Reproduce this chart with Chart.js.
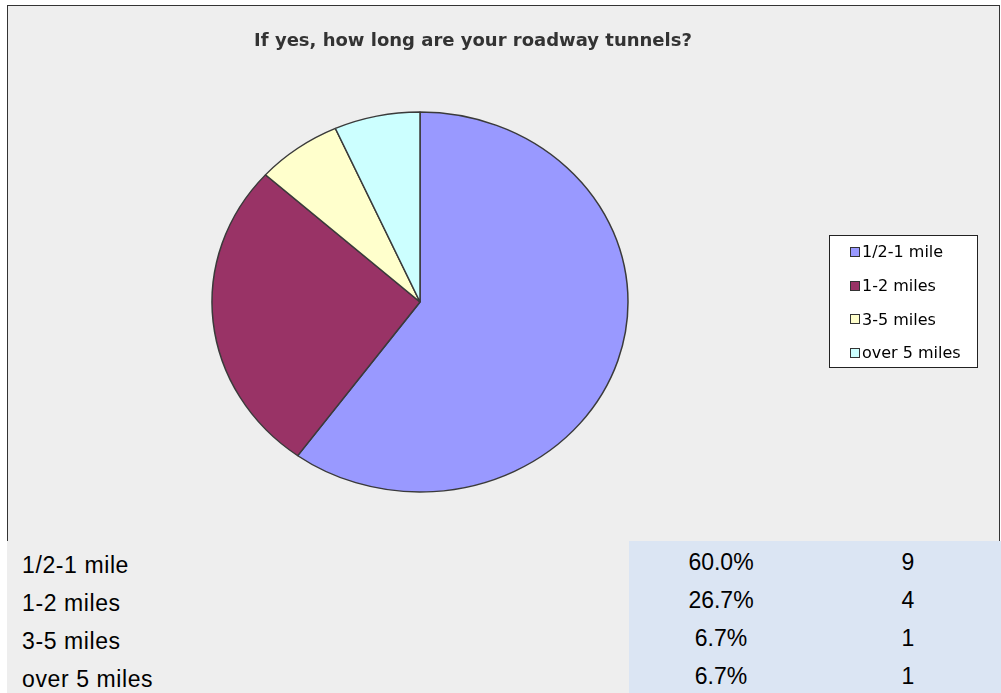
<!DOCTYPE html>
<html>
<head>
<meta charset="utf-8">
<title>Roadway tunnel length</title>
<script src="https://cdn.jsdelivr.net/npm/chart.js@4.4.0/dist/chart.umd.min.js"></script>
<style>
  html, body { margin: 0; padding: 0; background: #fff; }
  body { width: 1001px; height: 693px; position: relative; overflow: hidden; }
  #chart-box {
    position: absolute; left: 7px; top: 5px; width: 993px; height: 536px;
    background: #eeeeee; border: 1px solid #333; border-bottom: none; box-sizing: border-box;
  }
  #pie { position: absolute; left: 7px; top: 5px; }
  #summary {
    position: absolute; left: 7px; top: 541px; width: 994px; height: 152px;
    background: #eeeeee; font-family: "Liberation Sans", Arial, sans-serif; font-size: 23px; color: #000;
  }
  #summary .shade { position: absolute; left: 622px; top: 0; width: 372px; height: 152px; background: #dbe5f3; }
  #summary .row { position: absolute; left: 0; width: 994px; height: 38px; line-height: 38px; }
  #summary .label { position: absolute; left: 15px; letter-spacing: 0.6px; }
  #summary .pct { position: absolute; left: 664px; width: 100px; text-align: center; top: -3px; }
  #summary .count { position: absolute; left: 851px; width: 100px; text-align: center; top: -3px; }
</style>
</head>
<body>
<div id="chart-box"></div>
<canvas id="pie" width="993" height="536"></canvas>
<div id="summary"><div class="shade"></div></div>

<script>
const chartTitle = "If yes, how long are your roadway tunnels?";
const lengthLabels = ["1/2-1 mile", "1-2 miles", "3-5 miles", "over 5 miles"];
const responseCounts = [9, 4, 1, 1];
const sliceColors = ["#9999ff", "#993366", "#ffffcc", "#ccffff"];

const total = responseCounts.reduce((a, b) => a + b, 0);
const percentLabels = responseCounts.map((c) => (c / total * 100).toFixed(1) + "%");

// pie is drawn slightly squashed vertically (ry / rx)
const PIE_SQUASH = 190 / 208;

const ellipsePlugin = {
  id: "ellipse",
  beforeDatasetsDraw(chart) {
    const arc = chart.getDatasetMeta(0).data[0];
    if (!arc) return;
    const ctx = chart.ctx;
    ctx.save();
    ctx.translate(arc.x, arc.y);
    ctx.scale(1, PIE_SQUASH);
    ctx.translate(-arc.x, -arc.y);
  },
  afterDatasetsDraw(chart) {
    chart.ctx.restore();
  }
};

// title and boxed legend, drawn by hand
const decorPlugin = {
  id: "decor",
  afterDraw(chart) {
    const ctx = chart.ctx;
    ctx.save();

    ctx.fillStyle = "#333";
    ctx.font = "bold 18px 'DejaVu Sans', Verdana, sans-serif";
    ctx.textAlign = "center";
    ctx.textBaseline = "middle";
    ctx.fillText(chartTitle, 466, 36);

    // legend frame
    ctx.fillStyle = "#fff";
    ctx.fillRect(822, 230, 148, 132);
    ctx.strokeStyle = "#222";
    ctx.lineWidth = 1;
    ctx.strokeRect(822.5, 230.5, 148, 132);

    ctx.font = "16px 'DejaVu Sans', Verdana, sans-serif";
    ctx.textAlign = "left";
    lengthLabels.forEach((label, i) => {
      const y = 247 + i * 33.7;
      ctx.fillStyle = sliceColors[i];
      ctx.fillRect(843.5, Math.round(y) - 4.5, 9, 9);
      ctx.strokeStyle = "#333";
      ctx.strokeRect(843.5, Math.round(y) - 4.5, 9, 9);
      ctx.fillStyle = "#000";
      ctx.fillText(label, 855, y + 1);
    });

    ctx.restore();
  }
};

new Chart(document.getElementById("pie"), {
  type: "pie",
  data: {
    labels: lengthLabels,
    datasets: [{
      data: responseCounts,
      backgroundColor: sliceColors,
      borderColor: "#3a3a3a",
      borderWidth: 1.5,
      radius: 208,
      clip: false
    }]
  },
  options: {
    responsive: false,
    devicePixelRatio: 1,
    animation: false,
    events: [],
    layout: { padding: { left: 300, right: 467, top: 200, bottom: 142 } },
    plugins: {
      legend: { display: false },
      title: { display: false },
      tooltip: { enabled: false }
    }
  },
  plugins: [ellipsePlugin, decorPlugin]
});

// summary table under the chart
const summary = document.getElementById("summary");
lengthLabels.forEach((label, i) => {
  const row = document.createElement("div");
  row.className = "row";
  row.style.top = (5 + i * 38) + "px";
  row.innerHTML = `
    <span class="label">${label}</span>
    <span class="pct">${percentLabels[i]}</span>
    <span class="count">${responseCounts[i]}</span>
  `;
  summary.appendChild(row);
});
</script>
</body>
</html>
